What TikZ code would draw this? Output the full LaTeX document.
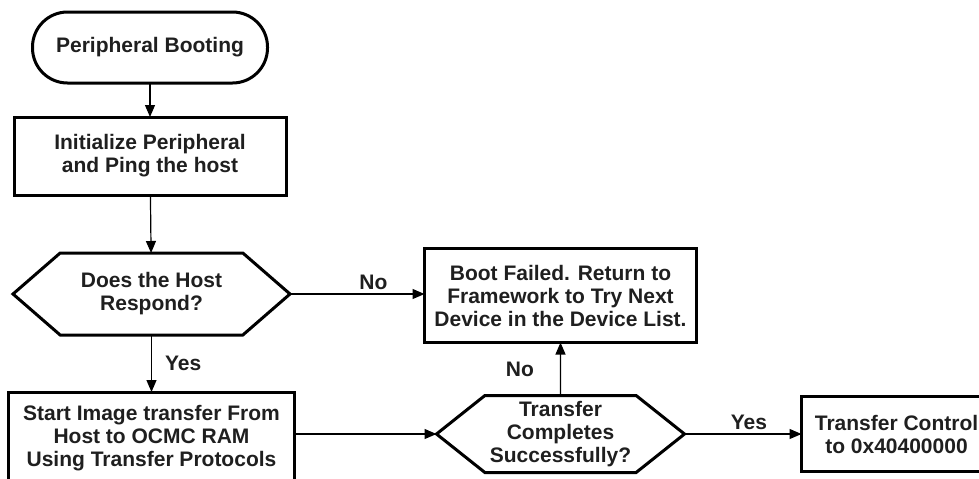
\documentclass[tikz,border=0pt]{standalone}
\usepackage{fontspec}
\setmainfont{Liberation Sans}
\usetikzlibrary{shapes.geometric,shapes.symbols,arrows.meta,positioning}

\begin{document}
\begin{tikzpicture}[
  font=\fontsize{10.5}{11.5}\selectfont\bfseries,
  >={Triangle[length=6pt, width=5pt]},
  term/.style={rectangle, rounded corners=17.5pt, draw=black, line width=1.5pt, outer sep=0pt,
               text=black!88, minimum width=117.5pt, minimum height=35.5pt, align=center},
  proc/.style={rectangle, draw=black, line width=1.5pt, outer sep=0pt, text=black!88,
               align=center, inner sep=2pt},
  dec/.style={signal, signal to=west and east, draw=black, line width=1.5pt, outer sep=0pt,
              text=black!88, align=center, inner sep=1pt},
  link/.style={->, line width=0.6pt, draw=black},
  lbl/.style={text=black!88, inner sep=2pt},
]
\useasboundingbox (0,0) rectangle (489.5pt,-239pt);

\node[term] (boot) at (75pt,-23.75pt) {Peripheral Booting};
\node[proc, below=17pt of boot, minimum width=136pt, minimum height=39pt] (init)
  {Initialize Peripheral\\and Ping the host};
\node[dec, below=29pt of init, xshift=0.75pt, signal pointer angle=82,
      minimum width=138.5pt, minimum height=41pt] (resp) {Does the Host\\Respond?};
\node[proc, below=28.5pt of resp, minimum width=143pt, minimum height=46pt] (img)
  {Start Image transfer From\\Host to OCMC RAM\\Using Transfer Protocols};
\node[dec, right=71pt of img, yshift=2pt, signal pointer angle=77,
      minimum width=124pt, minimum height=38.5pt] (done)
  {Transfer\\Completes\\Successfully?};
\node[proc, above=26.5pt of done, minimum width=136pt, minimum height=47pt] (fail)
  {Boot Failed. Return to\\Framework to Try Next\\Device in the Device List.};
\node[proc, right=58.5pt of done, minimum width=95pt, minimum height=37.5pt] (jump)
  {Transfer Control\\to 0x40400000};

\draw[link] (boot) -- (init);
\draw[link] (init) -- (resp);
\draw[link] (resp) -- node[lbl, right=4.5pt]{Yes} (img);
\draw[link] (resp.east) -- node[lbl, above, pos=0.62]{No} (fail.west |- resp.east);
\draw[link] (img.east |- done.west) -- (done.west);
\draw[link] (done) -- node[lbl, left=11pt]{No} (fail);
\draw[link] (done.east) -- node[lbl, above, pos=0.55]{Yes} (jump.west);

\end{tikzpicture}
\end{document}
